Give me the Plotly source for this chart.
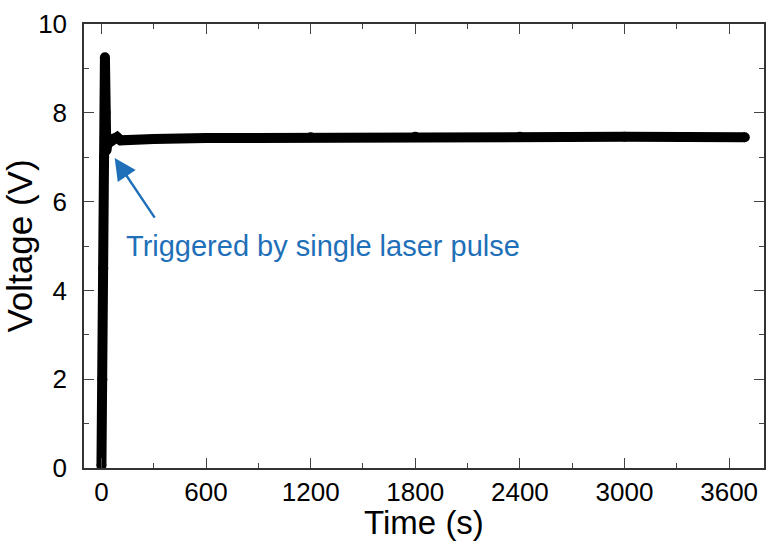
import plotly.graph_objects as go

# Measured voltage trace after the laser trigger
time_s = [0, 5, 10, 15, 20, 24, 28, 35, 50, 70, 90, 110, 150, 300, 600, 1200, 1800, 2400, 3000, 3690]
voltage_v = [0.05, 2.0, 4.5, 7.0, 9.25, 8.0, 7.15, 7.3, 7.36, 7.42, 7.45, 7.38, 7.39, 7.41, 7.43, 7.45, 7.46, 7.46, 7.46, 7.45]

x_ticks = [0, 600, 1200, 1800, 2400, 3000, 3600]
y_ticks = [0, 2, 4, 6, 8, 10]

annotation_text = "Triggered by single laser pulse"
arrow_tip = (76, 6.98)
text_pos = (1270, 5.0)

FONT = "Liberation Sans, Arial, sans-serif"

fig = go.Figure()
fig.add_trace(go.Scatter(
    x=time_s, y=voltage_v,
    mode="lines+markers",
    line=dict(color="black", width=10),
    marker=dict(color="black", size=10),
    showlegend=False,
))

common = dict(
    showline=True, linecolor="#333333", linewidth=1.5, mirror="allticks",
    ticks="inside", ticklen=10, tickwidth=1.3, tickcolor="#444444",
    showgrid=False, zeroline=False,
    tickfont=dict(family=FONT, size=26, color="black"),
)

fig.update_xaxes(
    range=[-100, 3800], tickvals=x_ticks,
    minor=dict(dtick=300, tick0=0, ticks="inside", ticklen=5, tickcolor="#444444", tickwidth=1.3),
    title=dict(text="Time (s)", font=dict(family=FONT, size=33, color="black"), standoff=0),
    ticklabelstandoff=0,
    **common,
)
fig.update_yaxes(
    range=[0, 10], tickvals=y_ticks,
    minor=dict(dtick=1, tick0=0, ticks="inside", ticklen=5, tickcolor="#444444", tickwidth=1.3),
    title=dict(text="Voltage (V)", font=dict(family=FONT, size=35, color="black"), standoff=0),
    ticklabelstandoff=10,
    **common,
)

fig.add_annotation(
    x=arrow_tip[0], y=arrow_tip[1], ax=41, ay=61, axref="pixel", ayref="pixel",
    showarrow=True, arrowhead=2, arrowsize=1.8, arrowwidth=2.4, arrowcolor="#1f70b8", text="",
)
fig.add_annotation(
    x=text_pos[0], y=text_pos[1], text=annotation_text, showarrow=False,
    font=dict(family=FONT, size=29, color="#1f70b8"),
)

fig.update_layout(
    width=767, height=541,
    margin=dict(l=84, r=1, t=24, b=73),
    paper_bgcolor="white", plot_bgcolor="white",
)

fig.write_html("out.html")
